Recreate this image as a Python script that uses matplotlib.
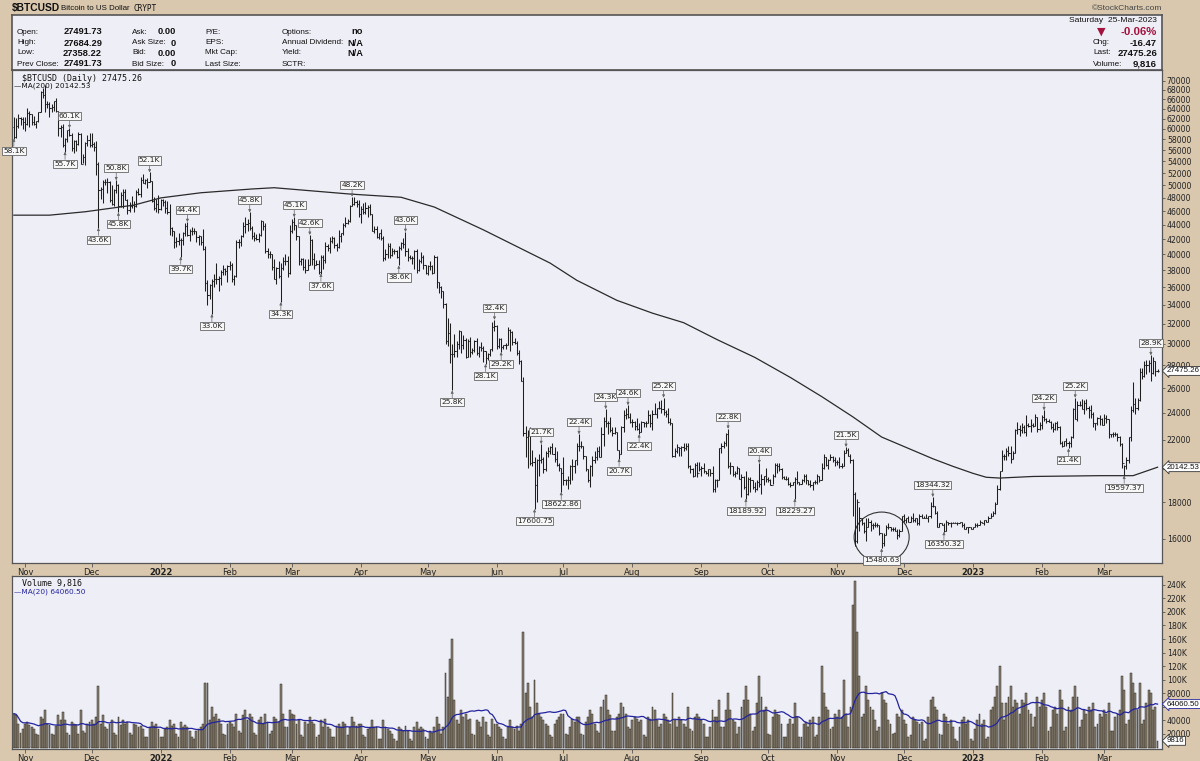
import numpy as np
import pandas as pd
import matplotlib
matplotlib.use("Agg")
import matplotlib.pyplot as plt
from matplotlib.collections import LineCollection
from matplotlib.patches import Ellipse
from matplotlib.ticker import NullLocator
from matplotlib.transforms import IdentityTransform, blended_transform_factory

# daily bars, 27-Oct-2021 .. 25-Mar-2023, prices in thousands of USD
start, end = "2021-10-27", "2023-03-25"

close = [
    58.4, 60.6, 62.2, 61.9, 61.3,
    61.0, 63.2, 62.9, 61.4, 61.0, 61.5, 63.3, 67.5, 66.9, 64.9, 64.9, 64.2, 64.4, 65.5, 63.6, 60.1, 60.4, 56.9, 58.1, 59.8, 58.7, 56.3, 57.6, 57.2, 58.9, 53.6, 54.8, 57.3, 57.8, 57.0,
    57.2, 56.5, 53.6, 49.2, 49.4, 50.6, 50.5, 50.6, 47.7, 47.1, 49.3, 50.1, 46.7, 48.4, 48.9, 47.6, 46.2, 46.7, 46.9, 46.7, 49.0, 48.6, 50.8, 50.4, 50.8, 50.6, 50.7, 47.5, 46.5, 47.1, 46.3,
    47.7, 47.3, 46.5, 45.9, 43.6, 43.2, 41.6, 41.8, 41.9, 41.9, 42.8, 43.9, 42.6, 43.1, 43.2, 43.1, 42.3, 42.4, 41.7, 40.7, 36.5, 35.1, 36.3, 36.7, 36.9, 37.0, 37.1, 37.8, 38.2, 37.9, 38.5,
    38.7, 37.0, 37.3, 41.6, 41.6, 42.4, 43.8, 44.1, 44.3, 43.6, 42.4, 42.2, 42.1, 42.6, 44.6, 43.9, 40.5, 40.0, 40.1, 38.4, 37.0, 38.3, 37.3, 38.3, 39.2, 39.1, 37.7, 43.2,
    44.4, 44.0, 42.4, 39.1, 39.4, 38.4, 38.0, 38.7, 41.9, 39.4, 38.7, 38.8, 37.8, 39.7, 39.3, 41.1, 40.9, 41.8, 42.2, 41.2, 41.0, 42.4, 42.9, 44.0, 44.3, 44.5, 46.8, 47.1, 47.4, 47.1, 45.5,
    46.3, 45.8, 46.4, 46.6, 45.5, 43.2, 43.4, 42.3, 42.8, 42.2, 39.5, 40.1, 41.1, 39.9, 40.5, 40.4, 39.7, 40.8, 41.5, 41.4, 40.5, 39.7, 39.5, 39.5, 40.4, 38.1, 39.2, 39.7, 38.6, 37.7,
    38.5, 38.5, 37.7, 39.7, 36.6, 36.0, 35.5, 34.1, 30.3, 31.0, 29.0, 29.0, 29.3, 30.0, 31.3, 29.9, 30.4, 28.7, 30.3, 29.2, 29.4, 30.3, 29.1, 29.7, 29.6, 29.3, 28.6, 29.0, 29.5, 31.7, 31.8,
    29.8, 30.5, 29.7, 29.9, 29.9, 31.4, 31.1, 30.2, 30.1, 29.1, 28.4, 26.6, 22.5, 22.2, 22.6, 20.4, 20.5, 19.0, 20.6, 20.6, 20.7, 20.0, 21.1, 21.2, 21.5, 21.0, 20.7, 20.3, 20.1, 19.8,
    19.3, 19.3, 19.3, 20.2, 20.2, 20.6, 21.6, 21.6, 21.6, 20.9, 20.0, 19.3, 20.2, 20.6, 20.8, 21.2, 20.8, 22.4, 23.4, 23.2, 23.2, 22.7, 22.5, 22.6, 21.3, 21.0, 22.9, 23.8, 23.9, 23.7, 23.3,
    23.3, 23.0, 22.8, 22.6, 23.3, 23.2, 23.2, 23.8, 23.2, 23.9, 23.9, 24.4, 24.4, 24.3, 24.1, 23.9, 23.3, 23.2, 20.9, 21.2, 21.5, 21.4, 21.5, 21.4, 21.6, 20.2, 20.0, 19.6, 20.3, 19.8, 20.0,
    20.1, 19.9, 19.8, 20.0, 19.8, 18.8, 19.3, 19.3, 21.4, 21.6, 21.8, 22.4, 20.2, 20.2, 19.7, 19.8, 20.1, 19.4, 19.5, 18.9, 18.5, 19.4, 19.3, 18.9, 18.8, 19.2, 19.1, 19.4, 19.6, 19.4,
    19.3, 19.0, 19.6, 20.3, 20.2, 20.0, 19.5, 19.4, 19.4, 19.1, 19.0, 19.2, 19.4, 19.2, 19.1, 19.3, 19.6, 19.3, 19.1, 19.0, 19.2, 19.2, 19.6, 19.3, 20.1, 20.8, 20.3, 20.6, 20.8, 20.6, 20.5,
    20.5, 20.2, 20.2, 21.1, 21.3, 20.9, 20.6, 18.5, 15.9, 18.0, 17.1, 16.8, 16.4, 16.6, 16.9, 16.7, 16.7, 16.7, 16.7, 16.3, 15.8, 16.2, 16.6, 16.6, 16.5, 16.5, 16.4, 16.2, 16.4, 17.2,
    17.0, 17.1, 16.9, 17.1, 17.0, 17.1, 16.8, 17.2, 17.1, 17.1, 17.1, 17.2, 17.8, 17.8, 17.4, 16.6, 16.8, 16.7, 16.4, 16.9, 16.8, 16.8, 16.8, 16.8, 16.8, 16.9, 16.7, 16.5, 16.6, 16.6, 16.5,
    16.6, 16.7, 16.7, 16.9, 16.8, 17.0, 16.9, 17.1, 17.2, 17.4, 17.9, 18.8, 19.9, 20.9, 20.9, 21.2, 21.1, 20.7, 21.1, 22.7, 22.8, 22.7, 22.9, 22.6, 23.1, 23.0, 23.1, 23.0, 23.7, 22.8, 23.1,
    23.7, 23.5, 23.4, 23.3, 22.9, 22.8, 23.2, 22.9, 21.8, 21.6, 21.9, 21.8, 21.8, 22.2, 24.3, 23.5, 24.6, 24.6, 24.3, 24.8, 24.4, 24.2, 23.9, 23.2, 23.2, 23.6, 23.5, 23.1,
    23.6, 23.5, 22.4, 22.4, 22.4, 22.4, 22.2, 21.7, 20.4, 20.2, 20.6, 22.2, 24.2, 24.7, 24.4, 25.0, 27.4, 27.0, 28.0, 28.0, 28.2, 27.3, 28.4, 27.5, 27.475,
]
high = [
    62.4, 62.1, 62.9, 62.3, 62.4,
    62.4, 64.2, 63.5, 63.0, 62.6, 61.6, 63.3, 67.8, 68.5, 69.0, 65.6, 65.4, 64.9, 65.5, 66.3, 63.6, 60.7, 60.9, 58.3, 59.8, 60.1, 59.2, 57.8, 57.8, 59.4, 59.2, 55.3, 57.4, 58.8, 59.2,
    59.1, 57.4, 57.6, 53.9, 49.7, 50.9, 51.0, 51.2, 50.7, 50.0, 49.4, 50.8, 50.2, 48.9, 49.4, 49.4, 47.9, 47.3, 48.3, 47.5, 49.3, 49.6, 51.4, 51.8, 51.0, 51.1, 52.1, 50.7, 48.1, 47.9, 48.5,
    47.9, 47.9, 47.6, 47.5, 47.1, 43.7, 43.1, 42.3, 42.8, 42.2, 43.0, 44.3, 44.4, 43.4, 43.7, 43.5, 43.2, 42.6, 42.5, 43.4, 41.1, 36.8, 36.4, 37.0, 37.5, 38.9, 37.3, 38.0, 38.7, 38.3, 38.7,
    39.2, 38.9, 37.4, 41.9, 42.0, 42.6, 44.4, 45.2, 44.8, 45.8, 43.9, 43.0, 42.7, 42.8, 44.7, 44.6, 44.2, 40.9, 40.4, 40.1, 39.4, 38.4, 39.2, 38.9, 39.7, 40.0, 39.8, 44.0,
    44.9, 45.1, 44.0, 42.5, 39.6, 39.6, 39.4, 39.4, 42.6, 42.0, 40.2, 39.3, 39.3, 39.9, 39.9, 41.7, 41.4, 42.3, 42.4, 42.3, 41.5, 43.3, 42.9, 44.2, 45.1, 44.8, 46.9, 48.2, 48.1, 47.7, 47.6,
    46.7, 47.2, 47.4, 46.9, 47.1, 45.5, 43.9, 43.9, 42.8, 43.4, 42.4, 40.7, 41.5, 41.5, 40.9, 40.7, 40.6, 41.1, 41.7, 42.2, 43.0, 40.8, 39.9, 39.8, 40.6, 40.7, 39.4, 40.3, 39.9, 38.7,
    38.6, 39.1, 38.6, 39.9, 39.8, 36.6, 36.1, 35.5, 34.2, 32.6, 32.1, 30.0, 30.9, 30.3, 31.4, 31.3, 30.8, 30.6, 30.5, 30.7, 29.6, 30.4, 30.6, 29.8, 30.2, 29.8, 29.3, 29.1, 29.5, 32.2, 32.4,
    31.9, 30.6, 30.6, 29.9, 30.1, 31.7, 31.5, 31.3, 30.6, 30.3, 29.4, 28.5, 26.9, 23.0, 22.7, 22.9, 21.3, 20.8, 20.7, 21.0, 21.7, 20.8, 21.2, 21.5, 21.6, 21.8, 21.5, 21.2, 20.4, 20.1,
    20.8, 19.4, 19.6, 20.3, 20.7, 20.6, 21.8, 22.4, 21.9, 21.6, 20.9, 20.0, 20.3, 20.9, 21.2, 21.5, 21.6, 22.9, 23.7, 24.3, 23.4, 23.7, 22.9, 22.9, 22.6, 21.3, 23.0, 24.2, 24.4, 24.6, 24.0,
    23.5, 23.4, 23.6, 23.2, 23.4, 23.3, 23.4, 24.2, 23.9, 24.2, 24.8, 24.4, 24.9, 25.0, 25.2, 24.2, 24.4, 23.6, 23.2, 21.4, 21.7, 21.5, 21.6, 21.8, 21.8, 21.8, 20.3, 20.1, 20.4, 20.5, 20.5,
    20.2, 20.4, 19.9, 20.0, 20.0, 20.2, 19.4, 19.4, 21.4, 21.8, 21.9, 22.5, 22.8, 20.5, 20.2, 19.9, 20.2, 20.1, 19.7, 19.6, 19.9, 19.5, 19.5, 19.3, 19.2, 19.3, 20.4, 19.7, 19.6, 20.1,
    19.5, 19.4, 19.7, 20.4, 20.4, 20.4, 20.1, 19.6, 19.6, 19.5, 19.2, 19.2, 19.5, 19.9, 19.2, 19.4, 19.7, 19.7, 19.3, 19.3, 19.2, 19.3, 19.7, 19.6, 20.4, 21.0, 20.8, 20.7, 21.0, 20.9, 20.8,
    20.6, 20.8, 20.4, 21.3, 21.5, 21.4, 21.0, 20.7, 18.6, 18.2, 17.7, 17.1, 16.9, 17.1, 17.1, 17.0, 16.8, 16.9, 16.8, 16.7, 16.3, 16.3, 16.7, 16.8, 16.6, 16.6, 16.6, 16.5, 16.5, 17.2,
    17.3, 17.1, 17.2, 17.2, 17.4, 17.1, 17.1, 17.3, 17.3, 17.2, 17.3, 17.2, 18.0, 18.3, 17.8, 17.5, 16.8, 16.8, 16.8, 17.0, 16.9, 16.9, 16.9, 16.9, 16.9, 16.9, 16.9, 16.8, 16.6, 16.6, 16.6,
    16.6, 16.8, 16.8, 17.0, 16.9, 17.0, 17.0, 17.2, 17.4, 17.5, 18.0, 19.0, 19.9, 21.3, 21.0, 21.4, 21.6, 21.6, 21.2, 22.8, 23.3, 23.1, 23.2, 23.1, 23.8, 23.2, 23.5, 23.2, 23.9, 23.7, 23.3,
    23.8, 24.2, 23.6, 23.5, 23.4, 23.2, 23.3, 23.4, 23.0, 21.9, 21.9, 22.1, 21.9, 22.3, 24.4, 25.2, 24.9, 24.9, 25.1, 25.0, 25.1, 24.5, 24.6, 24.1, 23.2, 23.7, 23.8, 23.6,
    23.9, 23.8, 23.5, 22.4, 22.6, 22.6, 22.5, 22.3, 21.8, 20.3, 20.8, 22.2, 24.5, 26.5, 25.2, 25.2, 27.7, 27.7, 28.4, 28.5, 28.5, 28.9, 28.7, 28.4, 27.684,
]
low = [
    58.1, 58.2, 60.2, 60.7, 59.9,
    59.5, 60.7, 60.4, 60.7, 60.8, 60.1, 61.4, 63.3, 66.3, 63.3, 64.1, 62.3, 63.3, 63.6, 63.4, 58.6, 58.4, 56.5, 55.7, 57.5, 58.6, 55.8, 55.4, 55.9, 57.0, 53.6, 53.7, 53.4, 56.7, 56.6,
    56.5, 55.9, 51.7, 43.6, 47.8, 47.2, 50.1, 48.7, 47.3, 46.9, 46.7, 48.7, 45.8, 46.6, 46.5, 47.6, 45.5, 45.9, 46.5, 45.8, 46.6, 48.5, 48.1, 50.4, 50.2, 49.5, 50.5, 47.3, 46.1, 45.9, 45.7,
    46.2, 46.7, 45.7, 45.6, 42.6, 42.5, 40.9, 41.0, 41.2, 39.7, 41.3, 42.5, 42.4, 41.8, 42.6, 42.7, 41.6, 41.3, 41.2, 40.6, 35.5, 34.0, 34.6, 33.0, 36.0, 36.4, 35.6, 36.2, 37.4, 37.4, 36.6,
    38.1, 36.6, 36.3, 37.2, 40.9, 41.1, 42.3, 42.8, 43.1, 43.3, 42.0, 41.8, 41.9, 41.6, 42.4, 43.3, 40.2, 39.5, 39.6, 38.1, 36.9, 36.4, 37.1, 34.3, 38.0, 38.6, 37.2, 37.5,
    42.8, 43.3, 41.9, 38.7, 38.6, 38.1, 37.7, 38.0, 38.6, 38.6, 38.2, 38.7, 37.6, 37.6, 38.2, 38.9, 40.5, 40.2, 41.5, 40.9, 40.5, 40.9, 41.7, 42.6, 43.7, 44.1, 44.4, 46.7, 46.9, 46.6, 45.2,
    44.2, 45.6, 45.5, 45.2, 45.4, 43.1, 42.8, 42.2, 42.1, 41.9, 39.2, 39.3, 39.6, 39.6, 39.8, 40.0, 39.6, 38.6, 40.6, 40.9, 39.8, 39.2, 39.4, 38.8, 38.2, 37.7, 37.9, 38.9, 38.2, 37.6,
    37.4, 38.1, 37.5, 37.7, 35.9, 35.3, 34.8, 33.7, 30.0, 29.8, 28.2, 25.8, 28.7, 28.7, 29.5, 29.1, 29.5, 28.6, 28.7, 28.7, 29.0, 29.2, 28.9, 28.7, 29.3, 28.3, 28.1, 28.5, 28.8, 29.3, 31.3,
    29.5, 29.6, 29.2, 29.5, 29.5, 29.9, 29.3, 29.9, 30.0, 28.9, 28.1, 26.6, 22.3, 20.8, 20.1, 20.3, 20.2, 17.6, 18.0, 19.6, 20.4, 19.8, 19.9, 20.8, 21.0, 21.0, 20.5, 20.2, 19.9, 18.6,
    19.0, 19.0, 18.8, 19.1, 19.3, 19.8, 20.3, 21.2, 21.4, 20.7, 19.9, 19.2, 18.9, 19.6, 20.4, 20.6, 20.8, 20.8, 21.6, 22.9, 22.4, 22.6, 22.3, 22.4, 21.3, 20.7, 21.0, 22.6, 23.5, 23.6, 23.2,
    22.9, 22.7, 22.7, 22.4, 22.6, 22.9, 22.9, 23.2, 22.9, 22.7, 23.9, 23.6, 24.3, 24.0, 23.8, 23.7, 23.2, 23.1, 20.8, 20.8, 21.1, 20.9, 20.9, 21.2, 21.3, 20.1, 19.8, 19.5, 19.6, 19.5, 19.9,
    19.6, 19.8, 19.7, 19.6, 19.6, 18.6, 18.6, 18.9, 19.3, 21.1, 21.4, 21.6, 20.1, 19.7, 19.6, 19.5, 19.7, 19.4, 18.3, 18.8, 18.2, 18.4, 18.6, 18.8, 18.6, 18.7, 18.9, 18.5, 19.0, 19.2,
    19.2, 19.0, 19.1, 19.5, 19.8, 19.9, 19.4, 19.4, 19.3, 19.0, 18.9, 19.0, 18.2, 19.1, 19.0, 19.1, 19.2, 19.1, 19.0, 18.9, 18.7, 19.1, 19.1, 19.2, 19.3, 20.0, 20.2, 20.0, 20.6, 20.5, 20.2,
    20.3, 20.1, 20.1, 20.2, 21.1, 20.9, 20.4, 17.2, 15.6, 15.8, 16.4, 16.7, 16.3, 15.9, 16.6, 16.4, 16.5, 16.6, 16.6, 16.2, 15.5, 15.6, 16.2, 16.5, 16.4, 16.4, 16.4, 16.0, 16.1, 16.4,
    16.9, 16.8, 16.9, 16.9, 16.9, 16.9, 16.7, 16.7, 17.1, 17.1, 17.1, 16.9, 17.1, 17.7, 17.3, 16.6, 16.6, 16.7, 16.35, 16.4, 16.7, 16.6, 16.8, 16.8, 16.7, 16.8, 16.6, 16.5, 16.5, 16.3, 16.5,
    16.5, 16.6, 16.6, 16.7, 16.8, 16.7, 16.9, 16.9, 17.1, 17.2, 17.3, 17.9, 18.7, 19.9, 20.6, 20.6, 20.9, 20.4, 20.7, 21.1, 22.4, 22.3, 22.5, 22.5, 22.3, 22.9, 22.6, 22.9, 23.0, 22.6, 22.7,
    22.8, 23.4, 23.2, 23.3, 22.8, 22.6, 22.7, 22.7, 21.7, 21.5, 21.6, 21.6, 21.4, 21.5, 22.1, 23.5, 23.4, 24.5, 24.3, 23.9, 24.2, 23.6, 23.6, 22.9, 22.7, 23.1, 23.1, 23.1,
    23.1, 23.2, 22.1, 22.2, 22.2, 22.3, 21.9, 21.6, 20.1, 19.6, 20.0, 20.4, 21.9, 24.1, 23.9, 24.2, 24.9, 26.8, 26.9, 27.2, 27.4, 26.6, 27.2, 27.0, 27.358,
]
# volume in thousands
volume = [
    50, 48, 35, 22, 28,
    35, 38, 33, 30, 28, 20, 18, 45, 42, 55, 35, 33, 20, 18, 32, 48, 40, 52, 40, 22, 18, 38, 35, 33, 20, 55, 25, 22, 35, 38,
    40, 35, 45, 90, 35, 48, 30, 28, 35, 40, 22, 18, 45, 33, 40, 35, 38, 22, 18, 35, 33, 30, 32, 28, 15, 15, 30, 38, 32, 35, 28,
    15, 15, 28, 30, 40, 32, 35, 20, 15, 38, 30, 33, 30, 25, 15, 12, 25, 28, 30, 35, 95, 95, 40, 60, 45, 50, 42, 35, 20, 18, 35,
    38, 35, 30, 50, 25, 22, 48, 55, 40, 50, 45, 22, 18, 40, 45, 35, 50, 38, 20, 25, 45, 42, 38, 93, 50, 30, 30, 55,
    50, 48, 35, 40, 18, 15, 38, 35, 45, 38, 35, 15, 18, 40, 30, 42, 30, 28, 15, 15, 32, 35, 30, 38, 35, 18, 30, 45, 38, 32, 35,
    35, 18, 15, 28, 30, 40, 30, 30, 12, 12, 40, 30, 28, 25, 20, 12, 10, 30, 28, 25, 32, 25, 12, 10, 30, 38, 28, 30, 28, 15,
    12, 25, 22, 30, 45, 35, 20, 30, 110, 75, 130, 160, 70, 40, 35, 55, 45, 50, 40, 42, 20, 18, 40, 38, 30, 45, 38, 18, 15, 42, 35,
    35, 30, 28, 15, 12, 30, 40, 30, 28, 32, 25, 35, 170, 80, 95, 60, 45, 100, 65, 50, 45, 40, 35, 32, 18, 15, 35, 40, 45, 50,
    50, 20, 18, 30, 42, 38, 45, 45, 20, 18, 38, 45, 55, 50, 35, 25, 22, 60, 70, 78, 55, 48, 25, 25, 45, 50, 65, 60, 50, 30, 28,
    40, 45, 42, 38, 40, 18, 15, 45, 42, 60, 55, 40, 30, 35, 50, 45, 40, 35, 80, 40, 30, 45, 40, 35, 30, 60, 28, 25, 45, 50, 45,
    40, 35, 15, 15, 30, 55, 45, 45, 70, 30, 30, 55, 80, 55, 40, 38, 20, 30, 60, 70, 90, 70, 50, 25, 30, 65, 105, 75, 55, 60,
    20, 18, 45, 55, 50, 48, 35, 15, 15, 35, 42, 35, 65, 45, 15, 15, 35, 38, 30, 40, 45, 15, 18, 45, 120, 80, 60, 55, 28, 30, 50,
    45, 55, 45, 100, 50, 30, 60, 210, 245, 170, 105, 45, 50, 90, 70, 60, 55, 40, 25, 30, 80, 70, 65, 40, 35, 20, 22, 50, 45, 55,
    40, 35, 15, 18, 45, 40, 38, 35, 38, 10, 12, 45, 70, 75, 60, 55, 20, 18, 50, 45, 35, 40, 30, 12, 10, 30, 40, 45, 35, 40, 12,
    10, 28, 40, 50, 35, 40, 12, 15, 55, 60, 75, 90, 120, 65, 40, 65, 75, 90, 60, 70, 65, 50, 70, 65, 80, 55, 50, 30, 45, 75, 60,
    70, 80, 60, 25, 30, 55, 60, 50, 85, 70, 25, 30, 60, 55, 75, 90, 75, 30, 40, 55, 50, 60, 55, 65, 30, 35, 50, 45,
    55, 50, 65, 25, 25, 45, 50, 55, 105, 85, 35, 40, 110, 95, 80, 55, 95, 35, 40, 65, 85, 80, 55, 60, 9.816,
]

# 200-day moving average (thousands)
ma200_dates = ["2021-10-27", "2021-11-12", "2021-11-28", "2021-12-20", "2022-01-01", "2022-01-19",
               "2022-02-11", "2022-02-21", "2022-03-27", "2022-04-19", "2022-05-04", "2022-05-26",
               "2022-06-25", "2022-07-07", "2022-07-25", "2022-08-10", "2022-08-24", "2022-09-08",
               "2022-09-25", "2022-10-11", "2022-10-25", "2022-11-08", "2022-11-21", "2022-12-14",
               "2022-12-23", "2023-01-01", "2023-01-07", "2023-01-13", "2023-01-28", "2023-02-27",
               "2023-03-14", "2023-03-25"]
ma200_vals = [45.4, 45.4, 45.9, 46.9, 48.0, 48.8, 49.4, 49.6, 48.6, 48.1, 46.6, 43.3,
              38.9, 36.8, 34.5, 33.1, 32.1, 30.4, 28.7, 26.9, 25.3, 23.7, 22.2, 20.7,
              20.2, 19.75, 19.5, 19.45, 19.55, 19.6, 19.6, 20.14253]

# swing labels
label_dates = ["2021-10-27", "2021-11-21", "2021-11-19", "2021-12-04", "2021-12-12", "2021-12-13",
               "2021-12-27", "2022-01-13", "2022-01-10", "2022-01-24", "2022-02-10", "2022-02-24",
               "2022-03-02", "2022-03-09", "2022-03-14", "2022-03-28", "2022-04-21", "2022-04-18",
               "2022-05-12", "2022-05-27", "2022-05-31", "2022-06-03", "2022-06-21", "2022-06-18",
               "2022-06-30", "2022-07-08", "2022-07-20", "2022-07-26", "2022-07-30", "2022-08-04",
               "2022-08-15", "2022-09-13", "2022-09-21", "2022-09-27", "2022-10-13", "2022-11-05",
               "2022-11-21", "2022-12-14", "2022-12-19", "2023-02-02", "2023-02-13", "2023-02-16",
               "2023-03-10", "2023-03-22"]
label_kinds = ["l", "h", "l", "l", "h", "l",
               "h", "h", "l", "l", "h", "l",
               "h", "h", "l", "h", "h", "l",
               "l", "l", "h", "l", "h", "l",
               "l", "h", "h", "l", "h", "l",
               "h", "h", "l", "h", "l", "h",
               "l", "h", "l", "h", "l", "h",
               "l", "h"]
label_texts = ["58.1K", "60.1K", "55.7K", "43.6K", "50.8K", "45.8K",
               "52.1K", "44.4K", "39.7K", "33.0K", "45.8K", "34.3K",
               "45.1K", "42.6K", "37.6K", "48.2K", "43.0K", "38.6K",
               "25.8K", "28.1K", "32.4K", "29.2K", "21.7K", "17600.75",
               "18622.86", "22.4K", "24.3K", "20.7K", "24.6K", "22.4K",
               "25.2K", "22.8K", "18189.92", "20.4K", "18229.27", "21.5K",
               "15480.63", "18344.32", "16350.32", "24.2K", "21.4K", "25.2K",
               "19597.37", "28.9K"]

price_ticks = list(range(16000, 70001, 2000))
vol_ticks = [20, 40, 60, 80, 100, 120, 140, 160, 180, 200, 220, 240]
# tick labels that sit fully behind the value tags on the right edge
hidden_price_ticks = [20000]
hidden_vol_ticks = [60]

TAN = "#d9c8ae"
PANEL = "#eeeef7"
SANS = "Liberation Sans"
W, H = 1200, 761

origin = pd.Timestamp("2021-11-01")
dates = pd.date_range(start, end, freq="D")
x = np.asarray((dates - origin).days, dtype=float)
c = np.array(close) * 1000
hi = np.array(high) * 1000
lo = np.array(low) * 1000
op = np.concatenate([[60300.0], c[:-1]])
vol = np.array(volume, dtype=float)
assert len(c) == len(x) == len(hi) == len(lo) == len(vol)


def fx(px):
    return px / W


def fy(py):
    return 1 - py / H


def day(d):
    return (pd.Timestamp(d) - origin).days


fig = plt.figure(figsize=(12, 7.61), dpi=100, facecolor=TAN)

# ---- header box
axh = fig.add_axes([fx(12), fy(70), 1150 / W, 55 / H])
axh.set_facecolor(PANEL)
axh.set_xticks([])
axh.set_yticks([])
for s in axh.spines.values():
    s.set_color("#555555")
    s.set_linewidth(1.2)


def t(px, py, s, **kw):
    kw.setdefault("fontsize", 5.9)
    kw.setdefault("va", "center")
    kw.setdefault("color", "#111111")
    kw.setdefault("family", SANS)
    fig.text(fx(px), fy(py), s, **kw)


t(12, 8, "$BTCUSD", fontsize=7.4, fontweight="bold")
t(61, 8, "Bitcoin to US Dollar", fontsize=5.7)
t(134, 8.5, "CRYPT", fontsize=5.6, family="DejaVu Sans Mono")
t(1162, 8, "\u00a9StockCharts.com", fontsize=6, ha="right", color="#444444")

rows = [32, 43, 53, 64]
for lab, val, r in zip(["Open:", "High:", "Low:", "Prev Close:"],
                       ["27491.73", "27684.29", "27358.22", "27491.73"], rows):
    t(17, r, lab)
    t(102, r, val, fontweight="bold", ha="right", fontsize=6.7)
for lab, val, r in zip(["Ask:", "Ask Size:", "Bid:", "Bid Size:"], ["0.00", "0", "0.00", "0"], rows):
    t(132, r, lab)
    t(176, r, val, fontweight="bold", ha="right", fontsize=6.7)
for lab, r in zip(["P/E:", "EPS:", "Mkt Cap:", "Last Size:"], rows):
    t(205, r, lab)
for lab, val, r in zip(["Options:", "Annual Dividend:", "Yield:", "SCTR:"], ["no", "N/A", "N/A", ""], rows):
    t(282, r, lab)
    t(363, r, val, fontweight="bold", ha="right", fontsize=6.7)

t(1157, 20, "Saturday  25-Mar-2023", ha="right", fontsize=6.1)
t(1101, 32, "\u25bc", color="#a3123c", ha="center", fontsize=8, family="DejaVu Sans")
t(1157, 32, "-0.06%", color="#a3123c", ha="right", fontsize=8.2, fontweight="bold")
for lab, val, r in zip(["Chg:", "Last:", "Volume:"], ["-16.47", "27475.26", "9,816"], [43, 53, 64]):
    t(1093, r, lab)
    t(1157, r, val, fontweight="bold", ha="right", fontsize=6.8)

# ---- price + volume panels
axp = fig.add_axes([fx(12), fy(563), 1150 / W, 493 / H])
axv = fig.add_axes([fx(12), fy(749), 1150 / W, 173 / H])

month_starts = pd.date_range("2021-11-01", "2023-03-01", freq="MS")
mx = [(m - origin).days for m in month_starts]
mlab = [str(m.year) if m.month == 1 else m.strftime("%b") for m in month_starts]

for ax in (axp, axv):
    ax.set_facecolor(PANEL)
    for s in ax.spines.values():
        s.set_color("#555555")
        s.set_linewidth(0.9)
    ax.set_xlim(-5.84, 511.0)
    ax.yaxis.tick_right()
    ax.set_xticks(mx)
    ax.set_xticklabels(mlab)
    for tl in ax.get_xticklabels():
        if tl.get_text().isdigit():
            tl.set_fontweight("bold")
    ax.tick_params(axis="x", direction="out", length=3, width=0.6, color="#555555",
                   labelsize=6, pad=0.5, labelcolor="#222222")
    ax.tick_params(axis="y", direction="out", length=2.5, width=0.6, color="#555555",
                   labelsize=5.6, pad=1, labelcolor="#222222")

axp.set_yscale("log")
axp.set_ylim(14790, 72500)
axp.set_yticks(price_ticks)
axp.set_yticklabels(["" if v in hidden_price_ticks else str(v) for v in price_ticks])
axp.yaxis.set_minor_locator(NullLocator())

segs = []
for xi, o, h_, l_, cl in zip(x, op, hi, lo, c):
    segs.append([(xi, l_), (xi, h_)])
    segs.append([(xi - 0.5, o), (xi, o)])
    segs.append([(xi, cl), (xi + 0.5, cl)])
axp.add_collection(LineCollection(segs, colors="#1e1e1e", linewidths=0.75))

mad = [day(d) for d in ma200_dates]
axp.plot(mad, np.array(ma200_vals) * 1000, color="#2a2a2a", lw=0.9)

date_idx = {d: i for i, d in enumerate(dates.strftime("%Y-%m-%d"))}
for d, k, s in zip(label_dates, label_kinds, label_texts):
    i = date_idx[d]
    yv = hi[i] if k == "h" else lo[i]
    off = 9 if k == "h" else -9
    axp.annotate(s, xy=(x[i], yv), xytext=(0, off), textcoords="offset pixels",
                 ha="center", va="bottom" if k == "h" else "top", fontsize=5.4, color="#222222",
                 bbox=dict(boxstyle="square,pad=0.14", fc="#f7f7f7", ec="#666666", lw=0.6),
                 arrowprops=dict(arrowstyle="-|>", color="#666666", lw=0.5, mutation_scale=4,
                                 shrinkA=0, shrinkB=0),
                 annotation_clip=False, zorder=6)

# circle around the Nov-2022 low
cx, cy = axp.transData.transform((day("2022-11-21"), 16080))
axp.add_patch(Ellipse((cx, cy), 55, 50, transform=IdentityTransform(), fill=False,
                      ec="#333333", lw=0.8, clip_on=False))

trp = blended_transform_factory(axp.transAxes, axp.transData)
for val, s in [(c[-1], "27475.26"), (ma200_vals[-1] * 1000, "20142.53")]:
    axp.annotate(s, xy=(1, val), xycoords=trp, xytext=(5, 0), textcoords="offset pixels",
                 ha="left", va="center", fontsize=5.7, color="#111111", family=SANS,
                 bbox=dict(boxstyle="larrow,pad=0.12", fc="white", ec="#333333", lw=0.6),
                 annotation_clip=False, zorder=10)

axp.text(0.009, 0.992, "$BTCUSD (Daily) 27475.26", transform=axp.transAxes, fontsize=6,
         family="DejaVu Sans Mono", va="top", ha="left", color="#111111")
axp.text(0.002, 0.974, "\u2014MA(200) 20142.53", transform=axp.transAxes, fontsize=5.3,
         va="top", ha="left", color="#111111")

# ---- volume panel
axv.set_ylim(-2.2, 253)
axv.set_yticks(vol_ticks)
axv.set_yticklabels(["" if v in hidden_vol_ticks else (f"{v}K" if v >= 100 else str(v * 1000))
                     for v in vol_ticks])
axv.bar(x, vol, width=0.85, color="#8a8170", edgecolor="#2e2a22", linewidth=0.35)
ma20 = pd.Series(vol).rolling(20, min_periods=1).mean()
axv.plot(x, ma20, color="#2323a0", lw=0.9)

trv = blended_transform_factory(axv.transAxes, axv.transData)
for val, s, ec in [(64.0605, "64060.50", "#2323a0"), (vol[-1], "9816", "#333333")]:
    axv.annotate(s, xy=(1, val), xycoords=trv, xytext=(5, 0), textcoords="offset pixels",
                 ha="left", va="center", fontsize=5.7, color="#111111", family=SANS,
                 bbox=dict(boxstyle="larrow,pad=0.12", fc="white", ec=ec, lw=0.6),
                 annotation_clip=False, zorder=10)

axv.text(0.009, 0.985, "Volume 9,816", transform=axv.transAxes, fontsize=6,
         family="DejaVu Sans Mono", va="top", ha="left", color="#111111")
axv.text(0.002, 0.93, "\u2014MA(20) 64060.50", transform=axv.transAxes, fontsize=5.3,
         va="top", ha="left", color="#2323a0")

fig.savefig("out.png", dpi=100, facecolor=TAN)
